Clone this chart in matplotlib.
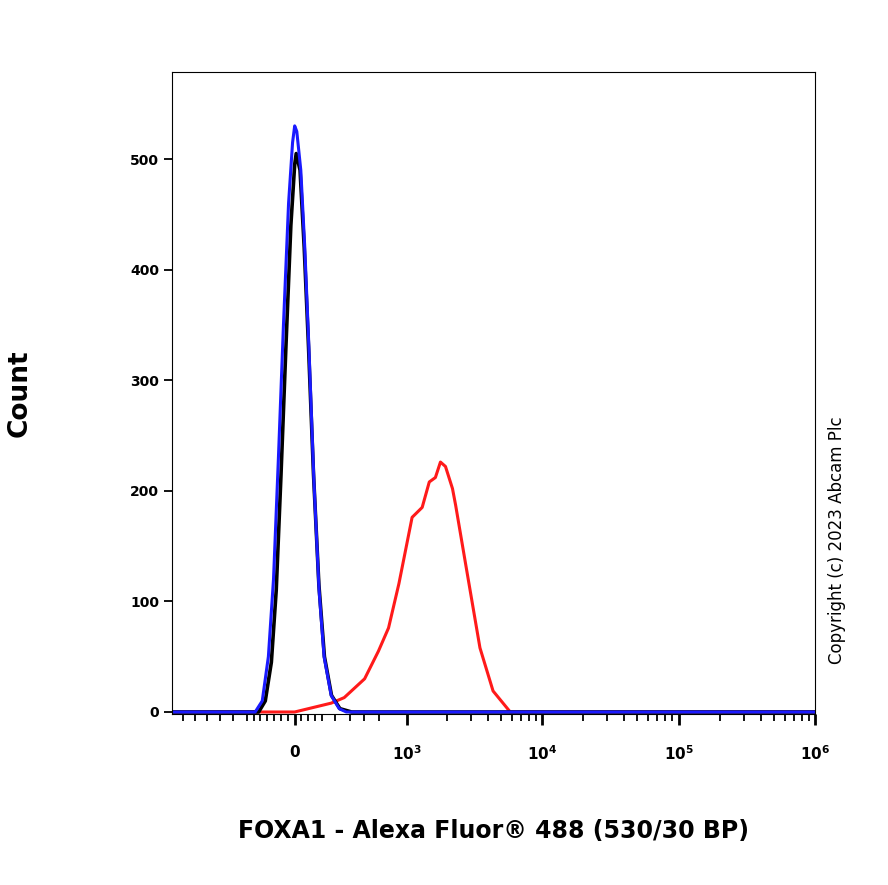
import matplotlib.pyplot as plt
import numpy as np

# Fluorescence values (biexponential display) and counts
blue_x = [-1200, -222, -178, -142, -113, -86, -59, -32, -11, 0, 11, 32, 53, 75, 102, 131, 160, 203, 255, 305, 1e6]
blue_y = [0, 0, 10, 50, 120, 230, 350, 460, 515, 530, 525, 490, 420, 330, 210, 110, 50, 15, 3, 0, 0]

black_x = [-1200, -200, -160, -125, -98, -72, -46, -20, 0, 8, 28, 50, 73, 100, 130, 162, 205, 260, 345, 1e6]
black_y = [0, 0, 10, 45, 110, 215, 330, 440, 495, 505, 490, 420, 330, 215, 115, 50, 15, 3, 0, 0]

red_x = [-1200, 0, 203, 290, 456, 598, 722, 871, 1100, 1311, 1482, 1646, 1795, 1956, 2204, 2325, 2762, 3512, 4383, 5860, 1e6]
red_y = [0, 0, 8, 13, 30, 55, 76, 116, 176, 185, 208, 212, 226, 222, 202, 187, 133, 58, 19, 0, 0]

W = 310.0

def fwd(x):
    return np.arcsinh(np.asarray(x) / W) / np.log(10)

def inv(v):
    return W * np.sinh(np.asarray(v) * np.log(10))

fig = plt.figure(figsize=(8.88, 8.85), dpi=100)
ax = fig.add_axes([0.194, 0.193, 0.724, 0.726])
ax.set_xscale('function', functions=(fwd, inv))

ax.plot(red_x, red_y, color='#ff1a1a', lw=2.2)
ax.plot(black_x, black_y, color='black', lw=2.6)
ax.plot(blue_x, blue_y, color='#1a1aff', lw=2.2)

ax.set_xlim(-1200, 1e6)
ax.set_ylim(-2, 579)

major = [0, 1e3, 1e4, 1e5, 1e6]
ax.set_xticks(major)
ax.set_xticklabels(['0', '10$^{\\mathbf{3}}$', '10$^{\\mathbf{4}}$', '10$^{\\mathbf{5}}$', '10$^{\\mathbf{6}}$'])
minor = [-1000, -800, -640, -500, -380, -280, -230, -190, -150, -110, -70, -35, 35, 70, 110, 150, 230, 330, 450, 600]
for dec in [1e3, 1e4, 1e5]:
    minor += [dec * k for k in range(2, 10)]
ax.set_xticks(minor, minor=True)
ax.tick_params(axis='x', which='major', length=8, width=2, labelsize=11, pad=14)
ax.tick_params(axis='x', which='minor', length=5, width=1.3)

ax.set_yticks([0, 100, 200, 300, 400, 500])
ax.tick_params(axis='y', length=6, width=1.3, labelsize=10)
for lab in ax.get_yticklabels():
    lab.set_fontweight('bold')
for lab in ax.get_xticklabels():
    lab.set_fontweight('bold')

ax.set_ylabel('Count', fontsize=19, fontweight='bold', labelpad=70)
ax.set_xlabel('FOXA1 - Alexa Fluor® 488 (530/30 BP)', fontsize=17, fontweight='bold', labelpad=40)

fig.text(0.943, 0.39, 'Copyright (c) 2023 Abcam Plc', rotation=90, fontsize=12,
         ha='center', va='center')

fig.savefig('out.png', dpi=100)
